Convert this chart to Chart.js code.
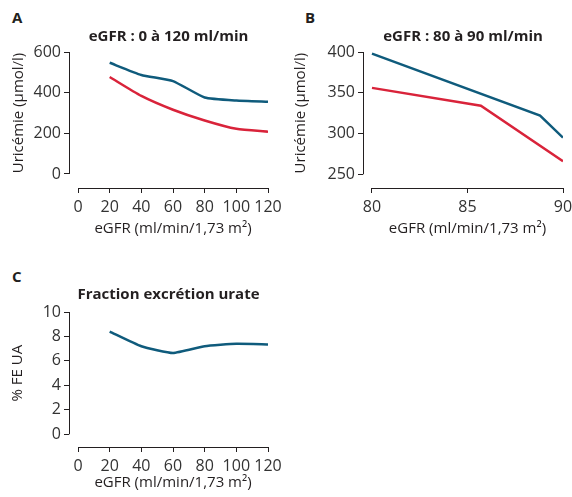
<!DOCTYPE html>
<html>
<head>
<meta charset="utf-8">
<script src="https://cdn.jsdelivr.net/npm/chart.js@4.4.1/dist/chart.umd.min.js"></script>
<style>
    body { margin: 0; background: #fff; width: 572px; height: 497px; position: relative; overflow: hidden; font-family: "Open Sans", sans-serif; }
    canvas { position: absolute; }
    .panel-letter { position: absolute; font-weight: bold; font-size: 15px; line-height: 15px; color: #231f20; }
</style>
</head>
<body>
<div class="panel-letter" style="left:12px;top:10px">A</div>
<div class="panel-letter" style="left:305px;top:10px">B</div>
<div class="panel-letter" style="left:12px;top:269px">C</div>
<canvas id="chartA" width="290" height="250" style="left:0;top:0"></canvas>
<canvas id="chartB" width="290" height="250" style="left:282px;top:0"></canvas>
<canvas id="chartC" width="290" height="247" style="left:0;top:250px"></canvas>
<script>
// Panel A : eGFR 0 à 120
const egfrA = [20, 40, 60, 80, 100, 120];
const uricemieA_bleu = [547, 487, 457, 376, 361, 355];
const uricemieA_rouge = [477, 384, 316, 263, 222, 208];
const ticksXA = [0, 20, 40, 60, 80, 100, 120];
const ticksYA = [0, 200, 400, 600];

// Panel B : eGFR 80 à 90
const egfrB_bleu = [80, 88.8, 90];
const uricemieB_bleu = [398, 322, 295];
const egfrB_rouge = [80, 85.7, 90];
const uricemieB_rouge = [356, 334, 266];
const ticksXB = [80, 85, 90];
const ticksYB = [250, 300, 350, 400];

// Panel C : fraction d'excrétion
const egfrC = [20, 40, 60, 80, 100, 120];
const feUA = [8.4, 7.2, 6.65, 7.2, 7.4, 7.35];
const ticksXC = [0, 20, 40, 60, 80, 100, 120];
const ticksYC = [0, 2, 4, 6, 8, 10];

const BLEU = '#0f5b7c';
const ROUGE = '#d9233a';
const INK = '#231f20';
const FONT = '"Open Sans", sans-serif';

// Draws detached axis lines (range frame) and axis titles
const rangeFrame = {
    id: 'rangeFrame',
    afterDraw(chart, args, opts) {
        const { ctx, chartArea, scales: { x, y } } = chart;
        const xs = opts.xTicks, ys = opts.yTicks;
        const x0 = x.getPixelForValue(xs[0]), x1 = x.getPixelForValue(xs[xs.length - 1]);
        const y0 = y.getPixelForValue(ys[0]), y1 = y.getPixelForValue(ys[ys.length - 1]);
        const ax = Math.round(chartArea.left) + 0.5;
        const ay = Math.round(chartArea.bottom) + 0.5;
        ctx.save();
        ctx.strokeStyle = INK;
        ctx.lineWidth = 1;
        ctx.beginPath();
        ctx.moveTo(ax, y0); ctx.lineTo(ax, y1);
        ctx.moveTo(x0, ay); ctx.lineTo(x1, ay);
        ctx.stroke();

        ctx.fillStyle = INK;
        ctx.font = '15px ' + FONT;
        ctx.textAlign = 'center';
        ctx.textBaseline = 'middle';
        ctx.fillText(opts.xTitle, (x0 + x1) / 2, opts.xTitleY);
        ctx.translate(opts.yTitleX, (y0 + y1) / 2);
        ctx.rotate(-Math.PI / 2);
        ctx.fillText(opts.yTitle, 0, 0);
        ctx.restore();
    }
};

function makePanel(id, p) {
    const ctx = document.getElementById(id);
    return new Chart(ctx, {
        type: 'line',
        data: { datasets: p.datasets },
        options: {
            responsive: false,
            animation: false,
            layout: { padding: { left: 0, right: p.padRight, top: 0, bottom: 0 } },
            elements: { point: { radius: 0 } },
            plugins: {
                legend: { display: false },
                tooltip: { enabled: false },
                title: {
                    display: true,
                    text: p.title,
                    fullSize: false,
                    color: INK,
                    font: { family: FONT, size: 15, weight: 'bold' },
                    padding: { top: p.titleTop, bottom: p.titleBottom }
                },
                rangeFrame: {
                    xTicks: p.xTicks, yTicks: p.yTicks,
                    xTitle: 'eGFR (ml/min/1,73 m²)', xTitleY: p.xTitleY,
                    yTitle: p.yTitle, yTitleX: p.yTitleX
                }
            },
            scales: {
                x: {
                    type: 'linear',
                    min: p.xMin, max: p.xMax,
                    afterBuildTicks: s => { s.ticks = p.xTicks.map(v => ({ value: v })); },
                    afterFit: s => { s.height = p.xHeight; s.paddingLeft = 0; s.paddingRight = 0; },
                    border: { display: false },
                    grid: { drawOnChartArea: false, drawTicks: true, tickLength: 5, color: INK },
                    ticks: { padding: 5, color: '#333', font: { family: FONT, size: 16 }, maxRotation: 0 }
                },
                y: {
                    min: p.yMin, max: p.yMax,
                    afterBuildTicks: s => { s.ticks = p.yTicks.map(v => ({ value: v })); },
                    afterFit: s => { s.width = p.yWidth; },
                    border: { display: false },
                    grid: { drawOnChartArea: false, drawTicks: true, tickLength: 5, color: INK },
                    ticks: { padding: 3, color: '#333', font: { family: FONT, size: 16 } }
                }
            }
        },
        plugins: [rangeFrame]
    });
}

function serie(xs, ys, color, tension) {
    return {
        data: xs.map((v, i) => ({ x: v, y: ys[i] })),
        borderColor: color,
        borderWidth: 2.5,
        tension: tension,
        fill: false
    };
}

makePanel('chartA', {
    title: 'eGFR : 0 à 120 ml/min',
    datasets: [serie(egfrA, uricemieA_bleu, BLEU, 0.15), serie(egfrA, uricemieA_rouge, ROUGE, 0.2)],
    xMin: -5.7, xMax: 120, yMin: -69, yMax: 600,
    xTicks: ticksXA, yTicks: ticksYA,
    yWidth: 69, xHeight: 62, padRight: 22,
    titleTop: 28, titleBottom: 6,
    yTitle: 'Uricémie (µmol/l)', yTitleX: 19, xTitleY: 229
});

makePanel('chartB', {
    title: 'eGFR : 80 à 90 ml/min',
    datasets: [serie(egfrB_bleu, uricemieB_bleu, BLEU, 0), serie(egfrB_rouge, uricemieB_rouge, ROUGE, 0)],
    xMin: 79.53, xMax: 90, yMin: 233.2, yMax: 400,
    xTicks: ticksXB, yTicks: ticksYB,
    yWidth: 81, xHeight: 62, padRight: 9,
    titleTop: 28, titleBottom: 6,
    yTitle: 'Uricémie (µmol/l)', yTitleX: 19, xTitleY: 229
});

makePanel('chartC', {
    title: 'Fraction excrétion urate',
    datasets: [serie(egfrC, feUA, BLEU, 0.15)],
    xMin: -5.7, xMax: 120, yMin: -1.04, yMax: 10,
    xTicks: ticksXC, yTicks: ticksYC,
    yWidth: 69, xHeight: 50, padRight: 22,
    titleTop: 36, titleBottom: 8,
    yTitle: '% FE UA', yTitleX: 18, xTitleY: 233
});
</script>
</body>
</html>
